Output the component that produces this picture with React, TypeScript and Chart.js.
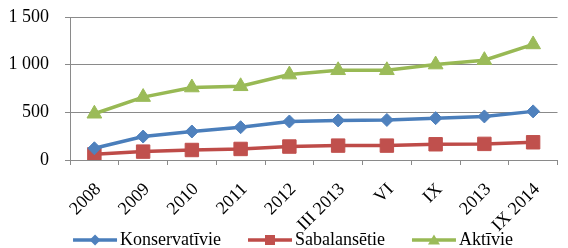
import React, { useEffect, useRef } from 'react';
import { Chart, registerables } from 'chart.js';
Chart.register(...registerables);

const categories = ['2008', '2009', '2010', '2011', '2012', 'III 2013', 'VI', 'IX', '2013', 'IX 2014'];
const seriesNames = ['Konservatīvie', 'Sabalansētie', 'Aktīvie'];
const konservativie = [123, 246, 299, 344, 404, 415, 420, 439, 457, 510];
const sabalansetie = [60, 88, 105, 116, 141, 151, 151, 165, 169, 186];
const aktivie = [485, 660, 760, 773, 896, 941, 941, 1001, 1047, 1212];
const yTickValues = [0, 500, 1000, 1500];

const lineColors = ['#4A7EBB', '#BE4B48', '#98B954'];
const markerColors = ['#4F81BD', '#C0504D', '#9BBB59'];
const markerStyles = ['rectRot', 'rect', 'triangle'];
const markerRadius = [6.5, 9.5, 8.5];

const FONT = "'Liberation Serif', 'Times New Roman', serif";
const GRID = '#8a8a8a';

function fmt(v: number): string {
  return String(v).replace(/\B(?=(\d{3})+(?!\d))/g, ' ');
}

function drawLegendMarker(ctx: CanvasRenderingContext2D, i: number, cx: number, cy: number) {
  ctx.fillStyle = markerColors[i];
  ctx.beginPath();
  if (i === 0) {
    ctx.moveTo(cx, cy - 5.5); ctx.lineTo(cx + 5.5, cy); ctx.lineTo(cx, cy + 5.5); ctx.lineTo(cx - 5.5, cy);
  } else if (i === 1) {
    ctx.rect(cx - 5, cy - 5, 10, 10);
  } else {
    ctx.moveTo(cx, cy - 5.5); ctx.lineTo(cx + 6, cy + 4.5); ctx.lineTo(cx - 6, cy + 4.5);
  }
  ctx.closePath();
  ctx.fill();
}

const legendPlugin = {
  id: 'lineLegend',
  afterDraw(chart: any) {
    const ctx: CanvasRenderingContext2D = chart.ctx;
    const lineLen = 44;
    const textGap = 3;
    const itemGap = 27;
    const y = 240;
    ctx.save();
    ctx.font = `18px ${FONT}`;
    const widths = seriesNames.map((n) => ctx.measureText(n).width);
    const total = widths.reduce((a, b) => a + b, 0) + seriesNames.length * (lineLen + textGap) + (seriesNames.length - 1) * itemGap;
    let x = chart.width / 2 - total / 2 + 9;
    seriesNames.forEach((name, i) => {
      ctx.strokeStyle = lineColors[i];
      ctx.lineWidth = 3.5;
      ctx.beginPath();
      ctx.moveTo(x, y);
      ctx.lineTo(x + lineLen, y);
      ctx.stroke();
      drawLegendMarker(ctx, i, x + lineLen / 2, y);
      ctx.fillStyle = '#000';
      ctx.textBaseline = 'middle';
      ctx.textAlign = 'left';
      ctx.fillText(name, x + lineLen + textGap, y);
      x += lineLen + textGap + widths[i] + itemGap;
    });
    ctx.restore();
  },
};

export default function App() {
  const ref = useRef<HTMLCanvasElement | null>(null);
  useEffect(() => {
    document.body.style.margin = '0';
    const values = [konservativie, sabalansetie, aktivie];
    const chart = new Chart(ref.current!, {
      type: 'line',
      data: {
        labels: categories,
        datasets: values.map((d, i) => ({
          label: seriesNames[i],
          data: d,
          borderColor: lineColors[i],
          backgroundColor: markerColors[i],
          pointBackgroundColor: markerColors[i],
          pointBorderColor: markerColors[i],
          pointBorderWidth: 1,
          pointStyle: markerStyles[i] as any,
          pointRadius: markerRadius[i],
          borderWidth: 3.5,
          tension: 0,
        })),
      },
      options: {
        animation: false,
        responsive: false,
        maintainAspectRatio: false,
        layout: { padding: { top: 0, right: 1, left: 0, bottom: 0 } },
        plugins: {
          tooltip: { enabled: false },
          legend: { display: false },
        },
        scales: {
          x: {
            offset: true,
            grid: { display: true, drawOnChartArea: false, drawTicks: true, tickLength: 5, offset: true, color: GRID, lineWidth: 1 },
            border: { color: GRID, width: 1 },
            ticks: { color: '#000', font: { family: FONT, size: 18 }, minRotation: 45, maxRotation: 45, padding: 14, labelOffset: 4, autoSkip: false },
            afterFit: (s: any) => { s.height = 88; },
          },
          y: {
            min: 0,
            max: 1500,
            afterBuildTicks: (s: any) => { s.ticks = yTickValues.map((v) => ({ value: v })); },
            grid: { color: GRID, lineWidth: 1, drawTicks: true, tickLength: 5 },
            border: { color: GRID, width: 1 },
            ticks: { color: '#000', font: { family: FONT, size: 18 }, padding: 16, callback: (v: any) => fmt(Number(v)) },
            afterFit: (s: any) => { s.width = 70; s.paddingTop = 17; s.paddingBottom = 0; },
          },
        },
      } as any,
      plugins: [legendPlugin],
    });
    return () => chart.destroy();
  }, []);
  return (
    <div style={{ width: 568, height: 248 }}>
      <canvas ref={ref} width={568} height={248} style={{ display: 'block' }} />
    </div>
  );
}
